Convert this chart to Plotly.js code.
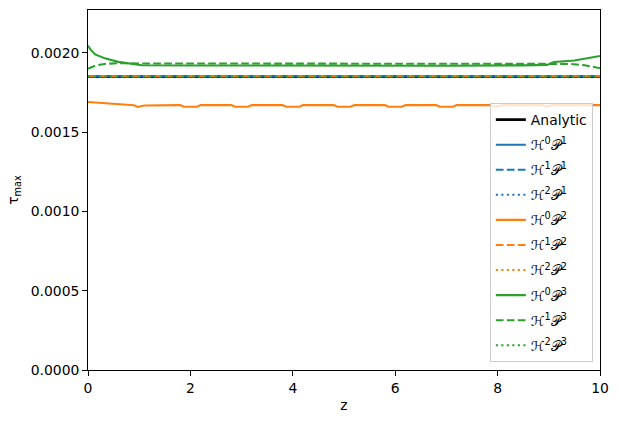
<!DOCTYPE html>
<html>
<head>
<meta charset="utf-8">
<script src="https://cdn.plot.ly/plotly-3.0.1.min.js"></script>
<style>html,body{margin:0;padding:0;background:#fff;}#plot{width:618px;height:423px;}</style>
</head>
<body>
<div id="plot"></div>
<script>
// ---- data ----
const zEnds = [0, 10];
const analytic = [0.00185, 0.00185];
const h0p1 = [0.001852, 0.001852];
const h1p1 = [0.001852, 0.001852];
const h2p1 = [0.001852, 0.001852];
const h1p2 = [0.001852, 0.001852];
const h2p2 = [0.001852, 0.001852];
const h2p3 = [0.001852, 0.001852];

const zH0P2 = [0, 0.3, 0.6, 0.9, 0.97, 1.1, 1.8, 1.87, 2.13, 2.2, 2.8, 2.87, 3.13, 3.2, 3.8, 3.87, 4.13, 4.2, 4.8, 4.87, 5.13, 5.2, 5.8, 5.87, 6.13, 6.2, 6.8, 6.87, 7.13, 7.2, 7.85, 7.97, 8.1, 8.87, 8.97, 9.06, 10];
const h0p2 = [0.001690, 0.001683, 0.001676, 0.001669, 0.001659, 0.001668, 0.001670, 0.001660, 0.001660, 0.001670, 0.001670, 0.001660, 0.001660, 0.001670, 0.001670, 0.001660, 0.001660, 0.001670, 0.001670, 0.001660, 0.001660, 0.001670, 0.001670, 0.001660, 0.001660, 0.001670, 0.001670, 0.001660, 0.001660, 0.001670, 0.001670, 0.001661, 0.001670, 0.001670, 0.001661, 0.001670, 0.001670];

const zH0P3 = [0, 0.05, 0.14, 0.33, 0.59, 0.92, 1.05, 2, 3, 5, 7, 8.5, 8.97, 9.1, 9.5, 10];
const h0p3 = [0.002045, 0.002020, 0.001990, 0.001965, 0.001943, 0.001930, 0.001922, 0.001920, 0.001919, 0.001918, 0.001919, 0.001921, 0.001924, 0.001942, 0.001952, 0.001980];

const zH1P3 = [0, 0.15, 0.35, 0.6, 1, 5, 9, 9.4, 9.7, 10];
const h1p3 = [0.001900, 0.001920, 0.001931, 0.001935, 0.001933, 0.001932, 0.001932, 0.001930, 0.001922, 0.001903];

const xTicks = [0, 2, 4, 6, 8, 10];
const yTicks = [0, 0.0005, 0.001, 0.0015, 0.002];

const names = ['Analytic',
  'ℋ<sup>0</sup>𝒫<sup>1</sup>', 'ℋ<sup>1</sup>𝒫<sup>1</sup>', 'ℋ<sup>2</sup>𝒫<sup>1</sup>',
  'ℋ<sup>0</sup>𝒫<sup>2</sup>', 'ℋ<sup>1</sup>𝒫<sup>2</sup>', 'ℋ<sup>2</sup>𝒫<sup>2</sup>',
  'ℋ<sup>0</sup>𝒫<sup>3</sup>', 'ℋ<sup>1</sup>𝒫<sup>3</sup>', 'ℋ<sup>2</sup>𝒫<sup>3</sup>'];

// ---- styling ----
const C1 = '#1f77b4', C2 = '#ff7f0e', C3 = '#2ca02c';
const W = 2.08;
const DASH = '7.7px,3.3px', DOT = '2.1px,3.4px';
let gid = 0;
function tr(x, y, name, color, dash, width) {
  gid += 1;
  return {x: x, y: y, name: name, type: 'scatter', mode: 'lines', legendgroup: 'g' + gid,
    line: {color: color, dash: dash, width: width || W}};
}
const traces = [
  tr(zEnds, analytic, names[0], '#000000', 'solid', 2.8),
  tr(zEnds, h0p1, names[1], C1, 'solid'),
  tr(zEnds, h1p1, names[2], C1, DASH),
  tr(zEnds, h2p1, names[3], C1, DOT),
  tr(zH0P2, h0p2, names[4], C2, 'solid'),
  tr(zEnds, h1p2, names[5], C2, DASH),
  tr(zEnds, h2p2, names[6], C2, DOT),
  tr(zH0P3, h0p3, names[7], C3, 'solid'),
  tr(zH1P3, h1p3, names[8], C3, DASH),
  tr(zEnds, h2p3, names[9], C3, DOT)
];

const axisCommon = {
  showgrid: false, zeroline: false, showline: true, mirror: true,
  linecolor: '#000', linewidth: 1, ticks: 'outside', ticklen: 4.9, tickwidth: 1,
  tickcolor: '#000', tickfont: {family: 'DejaVu Sans', size: 13.9, color: '#000'}
};
const layout = {
  width: 618, height: 423,
  margin: {l: 88, r: 18, t: 10, b: 53, pad: 0},
  paper_bgcolor: '#fff', plot_bgcolor: '#fff',
  font: {family: 'DejaVu Sans', size: 13.9, color: '#000'},
  showlegend: true,
  xaxis: Object.assign({}, axisCommon, {
    range: [0, 10], tickvals: xTicks, ticktext: xTicks.map(String),
    title: {text: 'z', font: {family: 'DejaVu Sans', size: 13.9}, standoff: 5}
  }),
  yaxis: Object.assign({}, axisCommon, {
    range: [0, 0.00227], tickvals: yTicks, ticktext: yTicks.map(v => v.toFixed(4)),
    title: {text: 'τ<sub>max</sub>', font: {family: 'DejaVu Sans', size: 13.9}, standoff: 8}
  }),
  legend: {
    x: 0.986, y: 0.022, xanchor: 'right', yanchor: 'bottom',
    bgcolor: 'rgba(255,255,255,0.8)', bordercolor: '#cccccc', borderwidth: 1,
    font: {family: 'DejaVu Sans', size: 13.9, color: '#000'},
    tracegroupgap: 4
  }
};
Plotly.newPlot('plot', traces, layout, {staticPlot: true, displayModeBar: false});
</script>
</body>
</html>
